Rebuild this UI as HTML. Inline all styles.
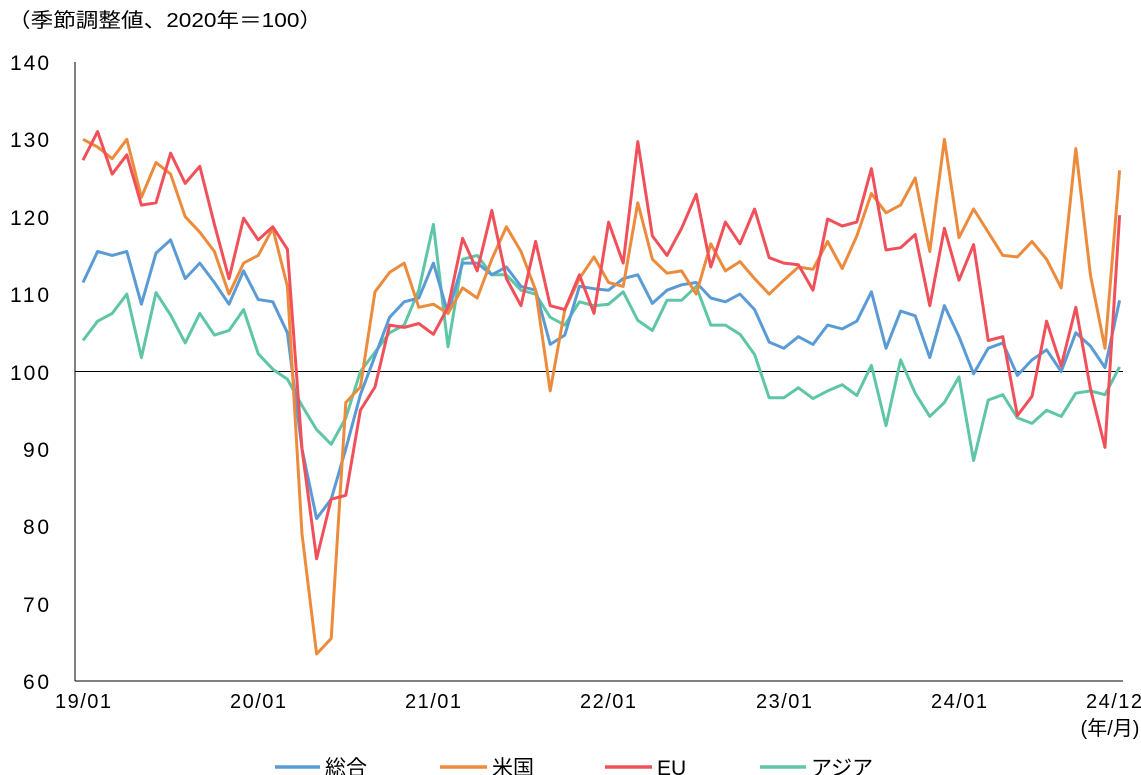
<!DOCTYPE html>
<html><head><meta charset="utf-8"><style>
html,body{margin:0;padding:0;background:#fff;}
svg{display:block;font-family:"Liberation Sans","Noto Sans CJK JP",sans-serif;}
</style></head><body>
<svg id="c" width="1141" height="775" viewBox="0 0 1141 775" xmlns="http://www.w3.org/2000/svg">
<text x="8" y="27" font-size="20" fill="#000" textLength="314" lengthAdjust="spacingAndGlyphs">（季節調整値、2020年＝100）</text>
<g font-size="21" fill="#000" text-anchor="end">
<text x="49" y="70" textLength="39">140</text><text x="49" y="147" textLength="39">130</text><text x="49" y="225" textLength="39">120</text>
<text x="49" y="302" textLength="39">110</text><text x="49" y="380" textLength="39">100</text><text x="49" y="457" textLength="26">90</text>
<text x="49" y="534" textLength="26">80</text><text x="49" y="612" textLength="26">70</text><text x="49" y="689" textLength="26">60</text>
</g>
<line x1="75" y1="62" x2="75" y2="681" stroke="#000" stroke-width="1"/>
<line x1="75" y1="681" x2="1123" y2="681" stroke="#000" stroke-width="1"/>
<line x1="75" y1="371.5" x2="1123" y2="371.5" stroke="#000" stroke-width="1"/>
<g font-size="20" fill="#000" text-anchor="middle">
<text x="83" y="708" textLength="56">19/01</text><text x="258" y="708" textLength="56">20/01</text><text x="433" y="708" textLength="56">21/01</text>
<text x="608" y="708" textLength="56">22/01</text><text x="784" y="708" textLength="56">23/01</text><text x="959" y="708" textLength="56">24/01</text>
<text x="1114" y="708" textLength="56">24/12</text><text x="1110" y="735">(年/月)</text>
</g>
<g id="series"></g>
<g font-size="21" fill="#000">
<line x1="275" y1="767" x2="320" y2="767" stroke="#5b9bd5" stroke-width="3.5"/><text x="325" y="775">総合</text>
<line x1="440" y1="767" x2="487" y2="767" stroke="#ed8b3d" stroke-width="3.5"/><text x="492" y="775">米国</text>
<line x1="605" y1="767" x2="652" y2="767" stroke="#f0505a" stroke-width="3.5"/><text x="657" y="775">EU</text>
<line x1="760" y1="767" x2="806" y2="767" stroke="#5ec6a6" stroke-width="3.5"/><text x="811" y="775">アジア</text>
</g>
</svg>
<script>
var S=[
["#5ec6a6",[104,106.5,107.5,110,101.8,110.2,107.3,103.7,107.5,104.7,105.3,108,
102.3,100.3,99,95.6,92.5,90.6,94,100,102.5,105,106,110.5,
119,103.2,114.5,115,112.5,112.5,110.5,110,107,106,109,108.5,
108.7,110.3,106.6,105.3,109.2,109.2,111,106,106,104.8,102.2,96.6,
96.6,97.9,96.5,97.5,98.3,96.9,100.8,93,101.5,97.2,94.2,96,
99.3,88.5,96.3,97,94,93.3,95,94.2,97.2,97.5,97,100.6]],
["#5b9bd5",[111.5,115.5,115,115.5,108.7,115.3,117,112,114,111.5,108.7,113,
109.3,109,105,90,81,83.5,90,97,102,107,109,109.5,
114,107.5,114,114,112.5,113.5,111,110.5,103.5,104.7,111,110.7,
110.5,112,112.5,108.8,110.5,111.2,111.5,109.5,109,110,108,103.8,
103,104.5,103.5,106,105.5,106.5,110.3,103,107.8,107.2,101.8,108.5,
104.5,99.7,103,103.7,99.5,101.5,102.8,100,105,103.3,100.5,109.2]],
["#ed8b3d",[130,129,127.5,130,122.5,127,125.5,120,118,115.5,110,114,
115,118.5,111,79,63.5,65.5,96,98,110.3,112.8,114,108.3,
108.7,107.5,110.8,109.5,114.5,118.7,115.5,110.5,97.5,108,112,114.8,
111.5,111,121.8,114.5,112.7,113,110,116.5,113,114.2,112,110,
111.8,113.5,113.2,116.8,113.3,117.5,123,120.5,121.5,125,115.5,130,
117.3,121,118,115,114.8,116.8,114.5,110.8,128.8,112.5,103,126]],
["#f0505a",[127.3,131,125.5,128,121.5,121.8,128.2,124.3,126.5,119,112,119.8,
117,118.7,115.8,90,75.8,83.5,84,95,98,106,105.7,106.2,
104.8,108.3,117.2,113,120.8,112,108.5,116.8,108.5,108,112.5,107.5,
119.3,114,129.7,117.5,115,118.5,122.9,113.5,119.3,116.5,121,114.7,
114,113.8,110.5,119.7,118.8,119.3,126.2,115.7,116,117.7,108.5,118.5,
111.8,116.4,104,104.5,94.3,96.8,106.5,100.7,108.3,97.8,90.2,120.2]]
];
var g=document.getElementById('series'),h='';
S.forEach(function(s){var p=s[1].map(function(v,i){return (83+i*14.6).toFixed(1)+','+(371.5-(v-100)*7.74).toFixed(1)}).join(' ');
h+='<polyline fill="none" stroke="'+s[0]+'" stroke-width="3" stroke-linejoin="round" points="'+p+'"/>';});
g.innerHTML=h;
</script>
</body></html>
